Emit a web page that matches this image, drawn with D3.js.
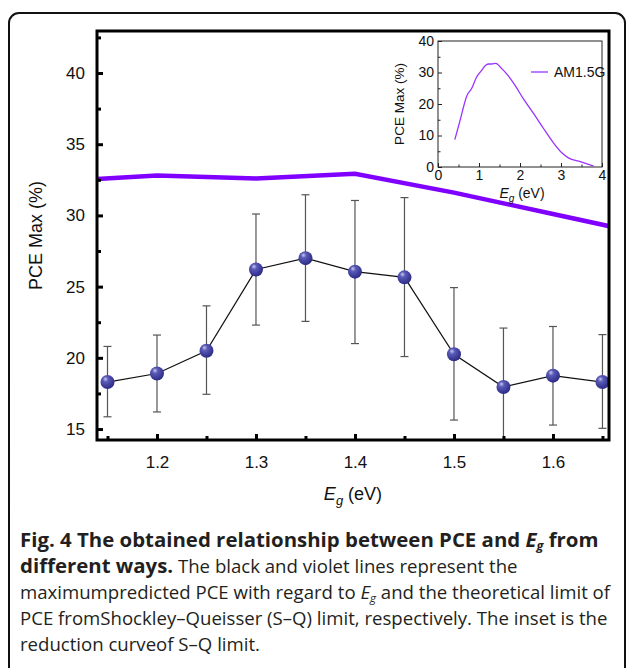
<!DOCTYPE html>
<html>
<head>
<meta charset="utf-8">
<script src="https://cdn.jsdelivr.net/npm/d3@7"></script>
<style>
  body { margin: 0; background: #fff; }
  svg text { font-family: "Liberation Sans", Arial, sans-serif; }
  svg text.caption { font-family: "Open Sans", "Noto Sans", sans-serif; fill: #231f20; }
</style>
</head>
<body>
<div id="chart"></div>
<script>
// main data: maximum predicted PCE vs band gap
const eg = [1.15, 1.2, 1.25, 1.3, 1.35, 1.4, 1.45, 1.5, 1.55, 1.6, 1.65];
const pce = [18.3, 18.9, 20.5, 26.2, 27.0, 26.05, 25.65, 20.25, 17.95, 18.75, 18.3];
const errHigh = [20.8, 21.6, 23.65, 30.1, 31.45, 31.05, 31.25, 24.93, 22.09, 22.2, 21.63];
const errLow = [15.86, 16.2, 17.44, 22.3, 22.56, 21.0, 20.09, 15.63, 13.6, 15.28, 15.05];

// S-Q limit (violet line)
const sqEg = [1.1, 1.2, 1.3, 1.4, 1.5, 1.6, 1.7];
const sqPce = [32.4, 32.8, 32.6, 32.92, 31.6, 30.1, 28.6];

// inset: S-Q curve AM1.5G
const insetEg = [0.41, 0.53, 0.71, 0.82, 0.94, 1.06, 1.17, 1.24, 1.31, 1.41, 1.55, 1.71, 1.88, 2.08, 2.33, 2.57, 2.82, 3.02, 3.18, 3.47, 3.8];
const insetPce = [8.7, 14.4, 22.8, 24.9, 28.5, 30.6, 32.4, 32.7, 32.7, 32.9, 31.3, 29.0, 25.9, 21.7, 17.0, 12.3, 7.6, 4.5, 2.9, 1.7, 0.3];

const xTicks = [1.2, 1.3, 1.4, 1.5, 1.6];
const yTicks = [15, 20, 25, 30, 35, 40];
const insetXTicks = [0, 1, 2, 3, 4];
const insetYTicks = [0, 10, 20, 30, 40];

const W = 629, H = 668;
const svg = d3.select('#chart').append('svg')
    .attr('width', W)
    .attr('height', H);

// outer rounded frame
svg.append('rect')
    .attr('x', 9).attr('y', 13)
    .attr('width', 616).attr('height', 700)
    .attr('rx', 10)
    .attr('fill', 'none')
    .attr('stroke', '#111')
    .attr('stroke-width', 2);

// sphere gradient
const defs = svg.append('defs');
const grad = defs.append('radialGradient')
    .attr('id', 'ball')
    .attr('cx', '40%').attr('cy', '35%').attr('r', '65%')
    .attr('fx', '35%').attr('fy', '28%');
grad.append('stop').attr('offset', '0%').attr('stop-color', '#c8c8f0');
grad.append('stop').attr('offset', '30%').attr('stop-color', '#5a5ab8');
grad.append('stop').attr('offset', '100%').attr('stop-color', '#2c2c86');

// main plot area
const pL = 97, pR = 609, pT = 31, pB = 440;
const x = d3.scaleLinear().domain([1.1394, 1.6566]).range([pL, pR]);
const y = d3.scaleLinear().domain([14.23, 42.95]).range([pB, pT]);

defs.append('clipPath').attr('id', 'plotclip')
    .append('rect')
    .attr('x', pL).attr('y', pT)
    .attr('width', pR - pL).attr('height', pB - pT);

const plot = svg.append('g').attr('clip-path', 'url(#plotclip)');

// violet S-Q line
plot.append('path')
    .datum(sqEg.map((d, i) => [d, sqPce[i]]))
    .attr('fill', 'none')
    .attr('stroke', '#8000ff')
    .attr('stroke-width', 4.5)
    .attr('d', d3.line().x(d => x(d[0])).y(d => y(d[1])));

// error bars
const errG = plot.append('g').attr('stroke', '#555').attr('stroke-width', 1.2);
eg.forEach((d, i) => {
    errG.append('line')
        .attr('x1', x(d)).attr('x2', x(d))
        .attr('y1', y(errLow[i])).attr('y2', y(errHigh[i]));
    [errLow[i], errHigh[i]].forEach(v => {
        errG.append('line')
            .attr('x1', x(d) - 4).attr('x2', x(d) + 4)
            .attr('y1', y(v)).attr('y2', y(v));
    });
});

// black line connecting points
plot.append('path')
    .datum(eg.map((d, i) => [d, pce[i]]))
    .attr('fill', 'none')
    .attr('stroke', '#111')
    .attr('stroke-width', 1.2)
    .attr('d', d3.line().x(d => x(d[0])).y(d => y(d[1])));

plot.selectAll('circle.pt')
    .data(eg)
    .enter()
    .append('circle')
    .attr('class', 'pt')
    .attr('cx', d => x(d))
    .attr('cy', (d, i) => y(pce[i]))
    .attr('r', 7)
    .attr('fill', 'url(#ball)');

// axes
const axisG = svg.append('g');
axisG.append('g')
    .attr('transform', `translate(0,${pB})`)
    .call(d3.axisBottom(x).tickValues(xTicks).tickSizeInner(-6).tickSizeOuter(0).tickPadding(16).tickFormat(d3.format('.1f')));
axisG.append('g')
    .attr('transform', `translate(0,${pB})`)
    .call(d3.axisBottom(x).tickValues([1.15, 1.25, 1.35, 1.45, 1.55, 1.65]).tickSizeInner(-4).tickSizeOuter(0).tickFormat(''));
axisG.append('g')
    .attr('transform', `translate(${pL},0)`)
    .call(d3.axisLeft(y).tickValues(yTicks).tickSizeInner(-6).tickSizeOuter(0).tickPadding(12));
axisG.append('g')
    .attr('transform', `translate(${pL},0)`)
    .call(d3.axisLeft(y).tickValues([17.5, 22.5, 27.5, 32.5, 37.5, 42.5]).tickSizeInner(-4).tickSizeOuter(0).tickFormat(''));
axisG.selectAll('.domain').remove();
axisG.selectAll('.tick line').attr('stroke', '#000').attr('stroke-width', 3);
axisG.selectAll('.tick text').attr('font-size', 17).attr('fill', '#111');

// frame of main plot
svg.append('rect')
    .attr('x', pL).attr('y', pT)
    .attr('width', pR - pL).attr('height', pB - pT)
    .attr('fill', 'none')
    .attr('stroke', '#000')
    .attr('stroke-width', 3);

// axis titles
svg.append('text')
    .attr('transform', `translate(42,${(pT + pB) / 2}) rotate(-90)`)
    .attr('text-anchor', 'middle')
    .attr('font-size', 18)
    .attr('fill', '#111')
    .text('PCE Max (%)');

const xt = svg.append('text')
    .attr('x', (pL + pR) / 2)
    .attr('y', 500)
    .attr('text-anchor', 'middle')
    .attr('font-size', 18)
    .attr('fill', '#111');
xt.append('tspan').attr('font-style', 'italic').text('E');
xt.append('tspan').attr('font-style', 'italic').attr('font-size', 13).attr('dy', 5).text('g');
xt.append('tspan').attr('dy', -5).text(' (eV)');

// inset
const il = 438, ir = 602, it = 41, ib = 167;
const ix = d3.scaleLinear().domain([0, 4]).range([il, ir]);
const iy = d3.scaleLinear().domain([0, 40]).range([ib, it]);

svg.append('rect')
    .attr('x', il).attr('y', it)
    .attr('width', ir - il).attr('height', ib - it)
    .attr('fill', '#fff')
    .attr('stroke', '#222')
    .attr('stroke-width', 1);

const insetAxes = svg.append('g');
insetAxes.append('g')
    .attr('transform', `translate(0,${ib})`)
    .call(d3.axisBottom(ix).tickValues(insetXTicks).tickSizeInner(-4).tickSizeOuter(0).tickPadding(3).tickFormat(d3.format('d')));
insetAxes.append('g')
    .attr('transform', `translate(0,${ib})`)
    .call(d3.axisBottom(ix).tickValues([0.5, 1.5, 2.5, 3.5]).tickSizeInner(-2.5).tickSizeOuter(0).tickFormat(''));
insetAxes.append('g')
    .attr('transform', `translate(${il},0)`)
    .call(d3.axisLeft(iy).tickValues(insetYTicks).tickSizeInner(-4).tickSizeOuter(0).tickPadding(4));
insetAxes.append('g')
    .attr('transform', `translate(${il},0)`)
    .call(d3.axisLeft(iy).tickValues([5, 15, 25, 35]).tickSizeInner(-2.5).tickSizeOuter(0).tickFormat(''));
insetAxes.selectAll('.domain').remove();
insetAxes.selectAll('.tick line').attr('stroke', '#222');
insetAxes.selectAll('.tick text').attr('font-size', 14).attr('fill', '#111');

svg.append('path')
    .datum(insetEg.map((d, i) => [d, insetPce[i]]))
    .attr('fill', 'none')
    .attr('stroke', '#9933ff')
    .attr('stroke-width', 1.3)
    .attr('d', d3.line().x(d => ix(d[0])).y(d => iy(d[1])).curve(d3.curveMonotoneX));

svg.append('text')
    .attr('transform', `translate(404,${(it + ib) / 2}) rotate(-90)`)
    .attr('text-anchor', 'middle')
    .attr('font-size', 13.5)
    .attr('fill', '#111')
    .text('PCE Max (%)');

const ixt = svg.append('text')
    .attr('x', (il + ir) / 2 + 2)
    .attr('y', 198)
    .attr('text-anchor', 'middle')
    .attr('font-size', 14)
    .attr('fill', '#111');
ixt.append('tspan').attr('font-style', 'italic').text('E');
ixt.append('tspan').attr('font-style', 'italic').attr('font-size', 10).attr('dy', 4).text('g');
ixt.append('tspan').attr('dy', -4).text(' (eV)');

// legend
svg.append('line')
    .attr('x1', 531).attr('x2', 548)
    .attr('y1', 72).attr('y2', 72)
    .attr('stroke', '#9933ff')
    .attr('stroke-width', 1.3);
svg.append('text')
    .attr('x', 554).attr('y', 77)
    .attr('font-size', 14)
    .attr('fill', '#111')
    .text('AM1.5G');

// caption
const cap = svg.append('g');
const capX = 20, capSize = 18.6, boldSize = 20.4;
function sub(t, size) {
    t.append('tspan').attr('font-style', 'italic').text('E');
    t.append('tspan').attr('font-style', 'italic').attr('font-size', size * 0.62).attr('dy', 3).text('g');
}
const t1 = cap.append('text').attr('class', 'caption').attr('x', capX).attr('y', 547)
    .attr('font-size', boldSize).attr('font-weight', 'bold');
t1.append('tspan').text('Fig. 4 The obtained relationship between PCE and ');
sub(t1, boldSize);
t1.append('tspan').attr('dy', -3).text(' from');

const t2 = cap.append('text').attr('class', 'caption').attr('x', capX).attr('y', 573).attr('font-size', capSize);
t2.append('tspan').attr('font-weight', 'bold').attr('font-size', boldSize).text('different ways.');
t2.append('tspan').text(' The black and violet lines represent the');

const t3 = cap.append('text').attr('class', 'caption').attr('x', capX).attr('y', 599).attr('font-size', capSize);
t3.append('tspan').text('maximumpredicted PCE with regard to ');
sub(t3, capSize);
t3.append('tspan').attr('dy', -3).text(' and the theoretical limit of');

cap.append('text').attr('class', 'caption').attr('x', capX).attr('y', 625).attr('font-size', capSize)
    .text('PCE fromShockley–Queisser (S–Q) limit, respectively. The inset is the');
cap.append('text').attr('class', 'caption').attr('x', capX).attr('y', 651).attr('font-size', capSize)
    .text('reduction curveof S–Q limit.');
</script>
</body>
</html>
